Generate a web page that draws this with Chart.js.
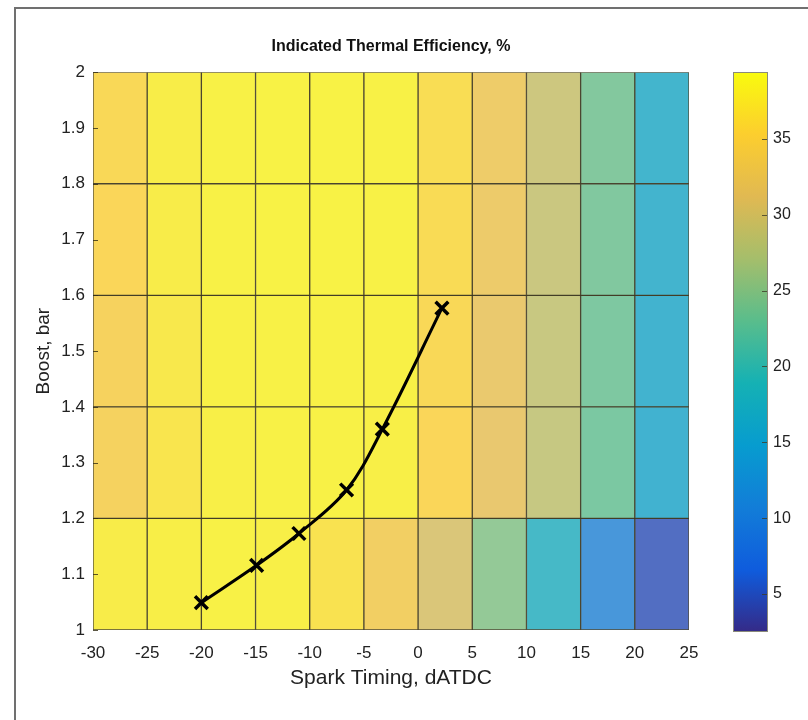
<!DOCTYPE html>
<html>
<head>
<meta charset="utf-8">
<script src="https://cdn.jsdelivr.net/npm/chart.js@4/dist/chart.umd.min.js"></script>
<style>
  body { margin: 0; background: #fff; }
  #wrap { position: relative; width: 808px; height: 720px; overflow: hidden; background: #fff; }
  #frame { position: absolute; left: 14px; top: 7px; width: 900px; height: 900px; border: 2px solid #707070; }
  #main { position: absolute; left: 0; top: 0; }
  #cbar { position: absolute; left: 733px; top: 0; }
</style>
</head>
<body>
<div id="wrap">
  <div id="frame"></div>
  <canvas id="main" width="808" height="720"></canvas>
  <canvas id="cbar" width="75" height="720"></canvas>
</div>
<script>
// cell edges of the map
const sparkEdges = [-30, -25, -20, -15, -10, -5, 0, 5, 10, 15, 20, 25];
const boostEdges = [1.0, 1.2, 1.4, 1.6, 1.8, 2.0];

// efficiency per cell, one row per boost band (bottom to top)
const eff_1_0 = [38.0, 38.3, 38.6, 38.4, 36.8, 33.8, 30.2, 24.6, 17.4, 10.6, 4.8];
const eff_1_2 = [34.4, 37.2, 38.4, 38.6, 38.6, 38.4, 35.4, 32.0, 28.4, 22.8, 15.6];
const eff_1_4 = [34.6, 37.6, 38.5, 38.6, 38.6, 38.5, 35.6, 32.2, 28.6, 23.0, 15.8];
const eff_1_6 = [35.4, 38.0, 38.6, 38.7, 38.7, 38.6, 36.0, 32.8, 28.8, 23.2, 16.0];
const eff_1_8 = [35.6, 38.2, 38.6, 38.7, 38.7, 38.6, 36.2, 33.0, 29.0, 23.4, 16.2];
const effRows = [eff_1_0, eff_1_2, eff_1_4, eff_1_6, eff_1_8];

// operating line
const lineSpark = [-20, -14.9, -11.0, -6.6, -3.3, 2.2];
const lineBoost = [1.049, 1.116, 1.173, 1.251, 1.36, 1.577];

const xTicks = [-30, -25, -20, -15, -10, -5, 0, 5, 10, 15, 20, 25];
const yTicks = [1, 1.1, 1.2, 1.3, 1.4, 1.5, 1.6, 1.7, 1.8, 1.9, 2];
const cbTicks = [5, 10, 15, 20, 25, 30, 35];
const cbMin = 2.5;
const cbMax = 39.4;

const FONT = "'Liberation Sans', Arial, Helvetica, sans-serif";
const TXT = '#222';

// parula
const parula = [
  [53, 42, 135], [15, 92, 221], [18, 125, 216], [7, 156, 207], [21, 177, 180],
  [89, 189, 140], [165, 190, 107], [225, 185, 82], [252, 206, 46], [249, 251, 14]
];

function parulaAt(t) {
  t = Math.max(0, Math.min(1, t));
  const p = t * (parula.length - 1);
  const i = Math.min(parula.length - 2, Math.floor(p));
  const f = p - i;
  return parula[i].map((c, k) => c + (parula[i + 1][k] - c) * f);
}

// cells are drawn semi transparent over a light background
function cellColour(v) {
  const c = parulaAt((v - cbMin) / (cbMax - cbMin));
  const a = 0.76;
  const bg = [242, 236, 226];
  const m = c.map((x, k) => Math.round(x * a + bg[k] * (1 - a)));
  return `rgb(${m[0]},${m[1]},${m[2]})`;
}

const cellSets = effRows.map((row, r) => ({
  type: 'bar',
  data: row.map((v, c) => ({ x: (sparkEdges[c] + sparkEdges[c + 1]) / 2, y: [boostEdges[r], boostEdges[r + 1]] })),
  backgroundColor: row.map(cellColour),
  borderColor: 'rgba(50,45,20,0.85)',
  borderWidth: 1,
  borderSkipped: false,
  grouped: false,
  barPercentage: 1,
  categoryPercentage: 1,
  order: 2
}));

const lineSet = {
  type: 'line',
  data: lineSpark.map((x, i) => ({ x: x, y: lineBoost[i] })),
  borderColor: '#000',
  borderWidth: 3,
  tension: 0.35,
  pointStyle: 'crossRot',
  pointRadius: 9,
  pointBorderWidth: 3.5,
  pointBorderColor: '#000',
  order: 1
};

// small inside tick marks on the left axis
const innerTicks = {
  id: 'innerTicks',
  afterDatasetsDraw(chart) {
    const { ctx, chartArea: a, scales: { y } } = chart;
    ctx.save();
    ctx.strokeStyle = 'rgba(50,45,20,0.8)';
    ctx.lineWidth = 1;
    yTicks.forEach(v => {
      const py = Math.round(y.getPixelForValue(v)) + 0.5;
      ctx.beginPath();
      ctx.moveTo(a.left, py);
      ctx.lineTo(a.left + 5, py);
      ctx.stroke();
    });
    ctx.restore();
  }
};

new Chart(document.getElementById('main'), {
  type: 'bar',
  data: { datasets: [...cellSets, lineSet] },
  options: {
    responsive: false,
    animation: false,
    layout: { padding: { left: 20, right: 119, top: 21, bottom: 10 } },
    plugins: {
      legend: { display: false },
      tooltip: { enabled: false },
      title: {
        display: true,
        text: 'Indicated Thermal Efficiency, %',
        fullSize: false,
        color: '#111',
        font: { family: FONT, size: 16, weight: 'bold' },
        padding: { top: 16, bottom: 16 }
      }
    },
    scales: {
      x: {
        type: 'linear',
        min: -30,
        max: 25,
        offset: false,
        afterBuildTicks: s => { s.ticks = xTicks.map(v => ({ value: v })); },
        afterFit: s => { s.height = 80; },
        grid: { display: false, drawTicks: false },
        border: { display: false },
        ticks: { color: TXT, font: { family: FONT, size: 17 }, padding: 13, maxRotation: 0, autoSkip: false },
        title: { display: true, text: 'Spark Timing, dATDC', color: TXT, font: { family: FONT, size: 21 }, padding: { top: 0, bottom: 19 } }
      },
      y: {
        type: 'linear',
        min: 1,
        max: 2,
        afterBuildTicks: s => { s.ticks = yTicks.map(v => ({ value: v })); },
        afterFit: s => { s.width = 73; },
        grid: { display: false, drawTicks: false },
        border: { display: false },
        ticks: { color: TXT, font: { family: FONT, size: 17 }, padding: 8, autoSkip: false, callback: v => String(+v.toFixed(1)) },
        title: { display: true, text: 'Boost, bar', color: TXT, font: { family: FONT, size: 19 }, padding: { top: 12, bottom: 0 } }
      }
    }
  },
  plugins: [innerTicks]
});

// colour bar
const colourBarPlugin = {
  id: 'colourBar',
  beforeDatasetsDraw(chart) {
    const { ctx, chartArea: a, scales: { y } } = chart;
    const g = ctx.createLinearGradient(0, y.getPixelForValue(cbMin), 0, y.getPixelForValue(cbMax));
    parula.forEach((c, i) => g.addColorStop(i / (parula.length - 1), `rgb(${c[0]},${c[1]},${c[2]})`));
    ctx.save();
    ctx.fillStyle = g;
    ctx.fillRect(a.left, a.top, a.right - a.left, a.bottom - a.top);
    ctx.strokeStyle = '#8a8a7a';
    ctx.lineWidth = 1;
    ctx.strokeRect(a.left + 0.5, a.top + 0.5, a.right - a.left - 1, a.bottom - a.top - 1);
    ctx.strokeStyle = 'rgba(60,60,40,0.8)';
    cbTicks.forEach(v => {
      const py = Math.round(y.getPixelForValue(v)) + 0.5;
      ctx.beginPath();
      ctx.moveTo(a.right - 6, py);
      ctx.lineTo(a.right - 1, py);
      ctx.stroke();
    });
    ctx.restore();
  }
};

new Chart(document.getElementById('cbar'), {
  type: 'bar',
  data: { labels: [''], datasets: [{ data: [] }] },
  options: {
    responsive: false,
    animation: false,
    layout: { padding: { left: 0, right: 0, top: 72, bottom: 88 } },
    plugins: { legend: { display: false }, tooltip: { enabled: false } },
    scales: {
      x: { display: false },
      y: {
        position: 'right',
        min: cbMin,
        max: cbMax,
        afterBuildTicks: s => { s.ticks = cbTicks.map(v => ({ value: v })); },
        afterFit: s => { s.width = 40; },
        grid: { display: false, drawTicks: false },
        border: { display: false },
        ticks: { color: TXT, font: { family: FONT, size: 16 }, padding: 5 }
      }
    }
  },
  plugins: [colourBarPlugin]
});
</script>
</body>
</html>
